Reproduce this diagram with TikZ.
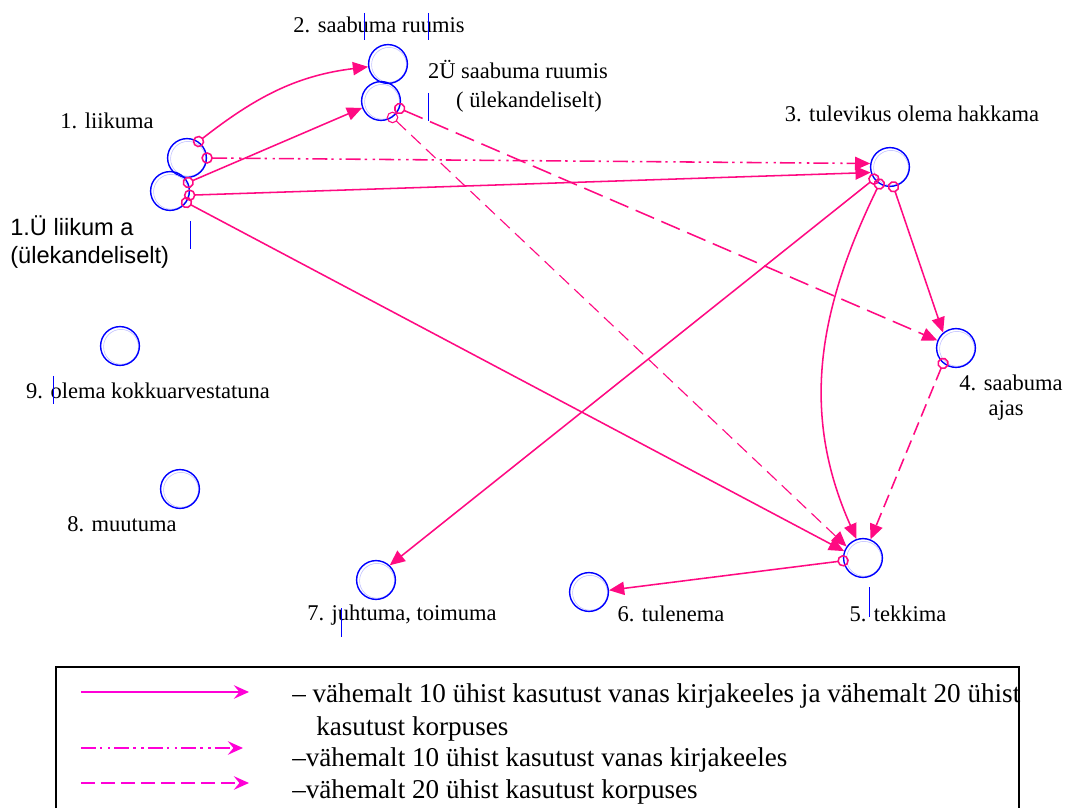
\documentclass[tikz,border=0pt]{standalone}
\usepackage{fontspec}
\setmainfont{Liberation Serif}
\newfontfamily\arialfont{Liberation Sans}
\usetikzlibrary{arrows.meta,positioning}
\definecolor{linkpink}{RGB}{255,10,130}
\definecolor{keymagenta}{RGB}{255,0,215}
\tikzset{%
    >={Triangle[length=3.8mm,width=3.3mm]},
    verb/.style={circle,draw=blue,line width=1pt,minimum size=9.7mm,inner sep=0pt,
        path picture={\draw[blue!25,line width=.4pt]
        ([shift={(.25mm,-.2mm)}]path picture bounding box.center) circle (4.35mm);}},
    txt/.style={inner sep=0pt,font=\fontsize{16}{19}\selectfont},
    sanstxt/.style={inner sep=0pt,anchor=west,font=\arialfont\fontsize{16.8}{19}\selectfont},
    keytxt/.style={inner sep=0pt,anchor=west,font=\fontsize{19.3}{23}\selectfont},
    caret/.style={draw=blue,line width=.5pt},
    link/.style={draw=linkpink,line width=1.1pt,
        {Circle[open,length=2.9mm,width=2.9mm]}->,shorten <=-1.45mm},
    dd/.style={dash pattern=on 3.75mm off 1mm on .6mm off 1.4mm on .6mm off 1mm},
    ds/.style={dash pattern=on 5mm off 2mm},
    dsthin/.style={line width=.8pt,dash pattern=on 3.3mm off 1.8mm},
    dsmid/.style={dash pattern=on 3.3mm off 1.6mm},
    keyarr/.style={draw=keymagenta,line width=1.1pt,
        -{Stealth[length=3.8mm,width=3.4mm,inset=1.4mm]}},
    rc/.style={rounded corners=2mm}
}

\begin{document}
\begin{tikzpicture}[x=.25mm,y=.25mm]
            \useasboundingbox (0,0) rectangle (1066,808);
            % verbs
            \node [verb] (v1) at (187,650) {};
            \node [verb] (v1u) at (170,617) {};
            \node [verb] (v2) at (388,744) {};
            \node [verb] (v2u) at (381,707) {};
            \node [verb] (v3) at (890,641) {};
            \node [verb] (v4) at (956,460) {};
            \node [verb] (v5) at (863,250) {};
            \node [verb] (v6) at (589,216) {};
            \node [verb] (v7) at (376,228) {};
            \node [verb] (v8) at (180,319) {};
            \node [verb] (v9) at (120,462) {};
            %%%%% names
            \node [txt] (t1) at (107,687) {1. liikuma};
            \node [sanstxt] (t1u) at (10,582) {1.Ü liikum a};
            \node [sanstxt] (t1ub) at (10,551) {(ülekandeliselt)};
            \node [txt] (t2) at (379,783) {2. saabuma ruumis};
            \node [txt] (t2u) at (518,738) {2Ü saabuma ruumis};
            \node [txt] (t2ub) at (529,706) {( ülekandeliselt)};
            \node [txt] (t3) at (912,694) {3. tulevikus olema hakkama};
            \node [txt] (t4) at (1011,425) {4. saabuma};
            \node [txt] (t4b) at (1006,398) {ajas};
            \node [txt] (t5) at (898,194) {5. tekkima};
            \node [txt] (t6) at (671,194) {6. tulenema};
            \node [txt] (t7) at (402,193) {7. juhtuma, toimuma};
            \node [txt] (t8) at (122,284) {8. muutuma};
            \node [txt] (t9) at (148,417) {9. olema kokkuarvestatuna};
            % stray text cursors
            \draw[caret] (364,795) -- (364,768);
            \draw[caret] (428,795) -- (428,768);
            \draw[caret] (428,715) -- (428,687);
            \draw[caret] (190,587) -- (190,559);
            \draw[caret] (53,432) -- (53,404);
            \draw[caret] (341,200) -- (341,171);
            \draw[caret] (869,221) -- (869,191);
            %%%%% links
            \draw[link] (v1.55) to[out=38,in=187] (v2.188);
            \draw[link] (v1u.25) -- (v2u.200);
            \draw[link,dd] (v1.east) -- (v3.170);
            \draw[link] (v1u.-12) -- (v3.196);
            \draw[link] (v1u.-35) -- (v5.160);
            \draw[link,ds] (v2u.-22) -- (v4.158);
            \draw[link,dsthin] (v2u.-55) -- (v5.145);
            \draw[link] (v3.217) -- (v7.47);
            \draw[link] (v3.238) to[out=244,in=114] (v5.109);
            \draw[link] (v3.-80) -- (v4.130);
            \draw[link,dsmid] (v4.230) -- (v5.68);
            \draw[link] (v5.188) -- (v6.5);
            %%%%% key
            \draw[line width=1.1pt] (56,0) |- (1019,141) -- (1019,0);
            \coordinate (k1a) at (81,116);  \coordinate (k1b) at (249,116);
            \coordinate (k2a) at (81,60);   \coordinate (k2b) at (243,60);
            \coordinate (k3a) at (81,25);   \coordinate (k3b) at (249,25);
            \draw[keyarr] (k1a) -- (k1b);
            \draw[keyarr,dd] (k2a) -- (k2b);
            \draw[keyarr,dash pattern=on 3.4mm off 1.6mm] (k3a) -- (k3b);
            \node [keytxt] (key1) at (292,112)
                {– vähemalt 10 ühist kasutust vanas kirjakeeles ja vähemalt 20 ühist};
            \node [keytxt] (key1b) at (316,79) {kasutust korpuses};
            \node [keytxt] (key2) at (292,48) {–vähemalt 10 ühist kasutust vanas kirjakeeles};
            \node [keytxt] (key3) at (292,16) {–vähemalt 20 ühist kasutust korpuses};
\end{tikzpicture}
\end{document}
